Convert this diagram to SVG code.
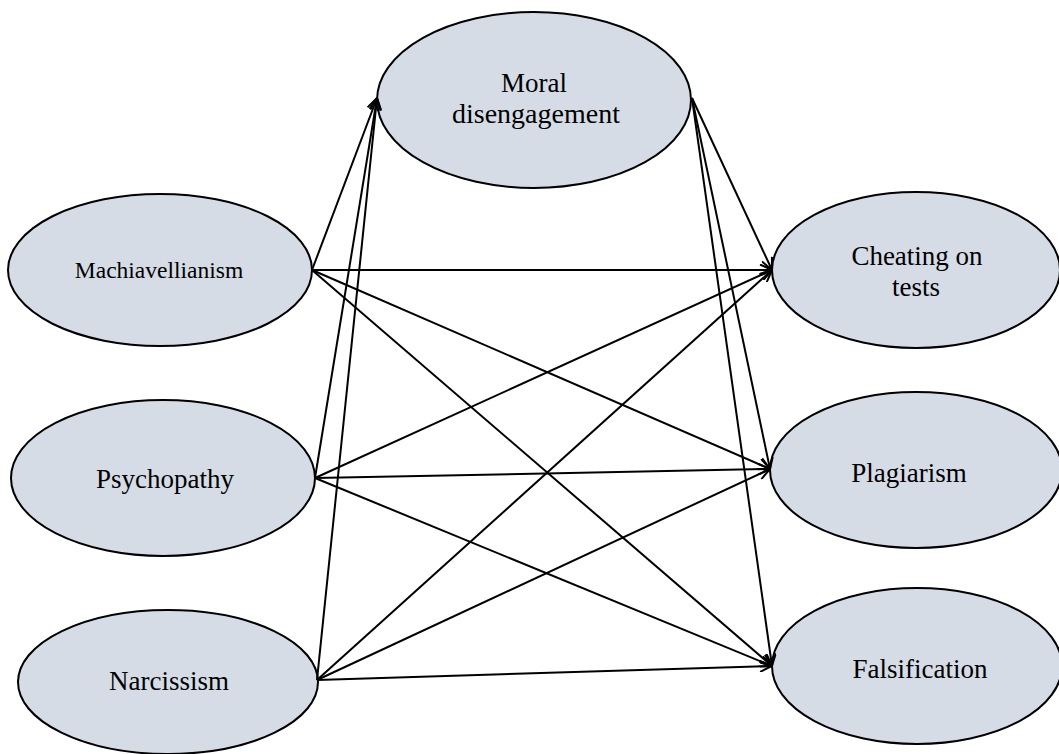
<svg xmlns="http://www.w3.org/2000/svg" width="1059" height="754" viewBox="0 0 1059 754">
<style>
.n{fill:#d6dce5;stroke:#000;stroke-width:2}
text{font-family:'Liberation Serif','Times New Roman','DejaVu Serif',serif;font-size:27px;fill:#000;text-anchor:middle}
text.s{font-size:23.5px}
.c line{stroke:#000;stroke-width:2;marker-end:url(#a)}
</style>
<defs>
<marker id="a" markerWidth="14" markerHeight="12" refX="13" refY="6" orient="auto" markerUnits="userSpaceOnUse">
<path d="M1,0.5 L13,6 L1,11.5" fill="none" stroke="#000" stroke-width="2"/>
</marker>
</defs>
<rect width="1059" height="754" fill="#fff"/>
<g id="moral"><ellipse class="n" cx="534" cy="100" rx="157" ry="88"/><text x="534" y="92">Moral</text><text x="536" y="123" style="font-size:28px">disengagement</text></g>
<g id="mach"><ellipse class="n" cx="160" cy="270" rx="152" ry="76"/><text class="s" x="159" y="278">Machiavellianism</text></g>
<g id="psych"><ellipse class="n" cx="163" cy="478" rx="152" ry="78"/><text x="165" y="488">Psychopathy</text></g>
<g id="narc"><ellipse class="n" cx="168" cy="682" rx="150" ry="72"/><text x="169" y="690">Narcissism</text></g>
<g id="cheat"><ellipse class="n" cx="916" cy="270" rx="144" ry="78"/><text x="917" y="265">Cheating on</text><text x="916" y="296">tests</text></g>
<g id="plag"><ellipse class="n" cx="916" cy="470" rx="146" ry="78"/><text x="909" y="482">Plagiarism</text></g>
<g id="fals"><ellipse class="n" cx="917" cy="666" rx="145" ry="78"/><text x="920" y="678">Falsification</text></g>
<g class="c" id="connectors">
<line x1="312" y1="270" x2="377" y2="98"/>
<line x1="315" y1="478" x2="377" y2="98"/>
<line x1="317" y1="680" x2="377" y2="98"/>
<line x1="312" y1="270" x2="772" y2="270"/>
<line x1="312" y1="270" x2="770" y2="469"/>
<line x1="312" y1="270" x2="772" y2="666"/>
<line x1="315" y1="478" x2="772" y2="270"/>
<line x1="315" y1="478" x2="770" y2="469"/>
<line x1="315" y1="478" x2="772" y2="666"/>
<line x1="317" y1="680" x2="772" y2="270"/>
<line x1="317" y1="680" x2="770" y2="469"/>
<line x1="317" y1="680" x2="772" y2="666"/>
<line x1="692" y1="98" x2="772" y2="270"/>
<line x1="692" y1="98" x2="770" y2="469"/>
<line x1="692" y1="98" x2="772" y2="666"/>
</g>
</svg>
